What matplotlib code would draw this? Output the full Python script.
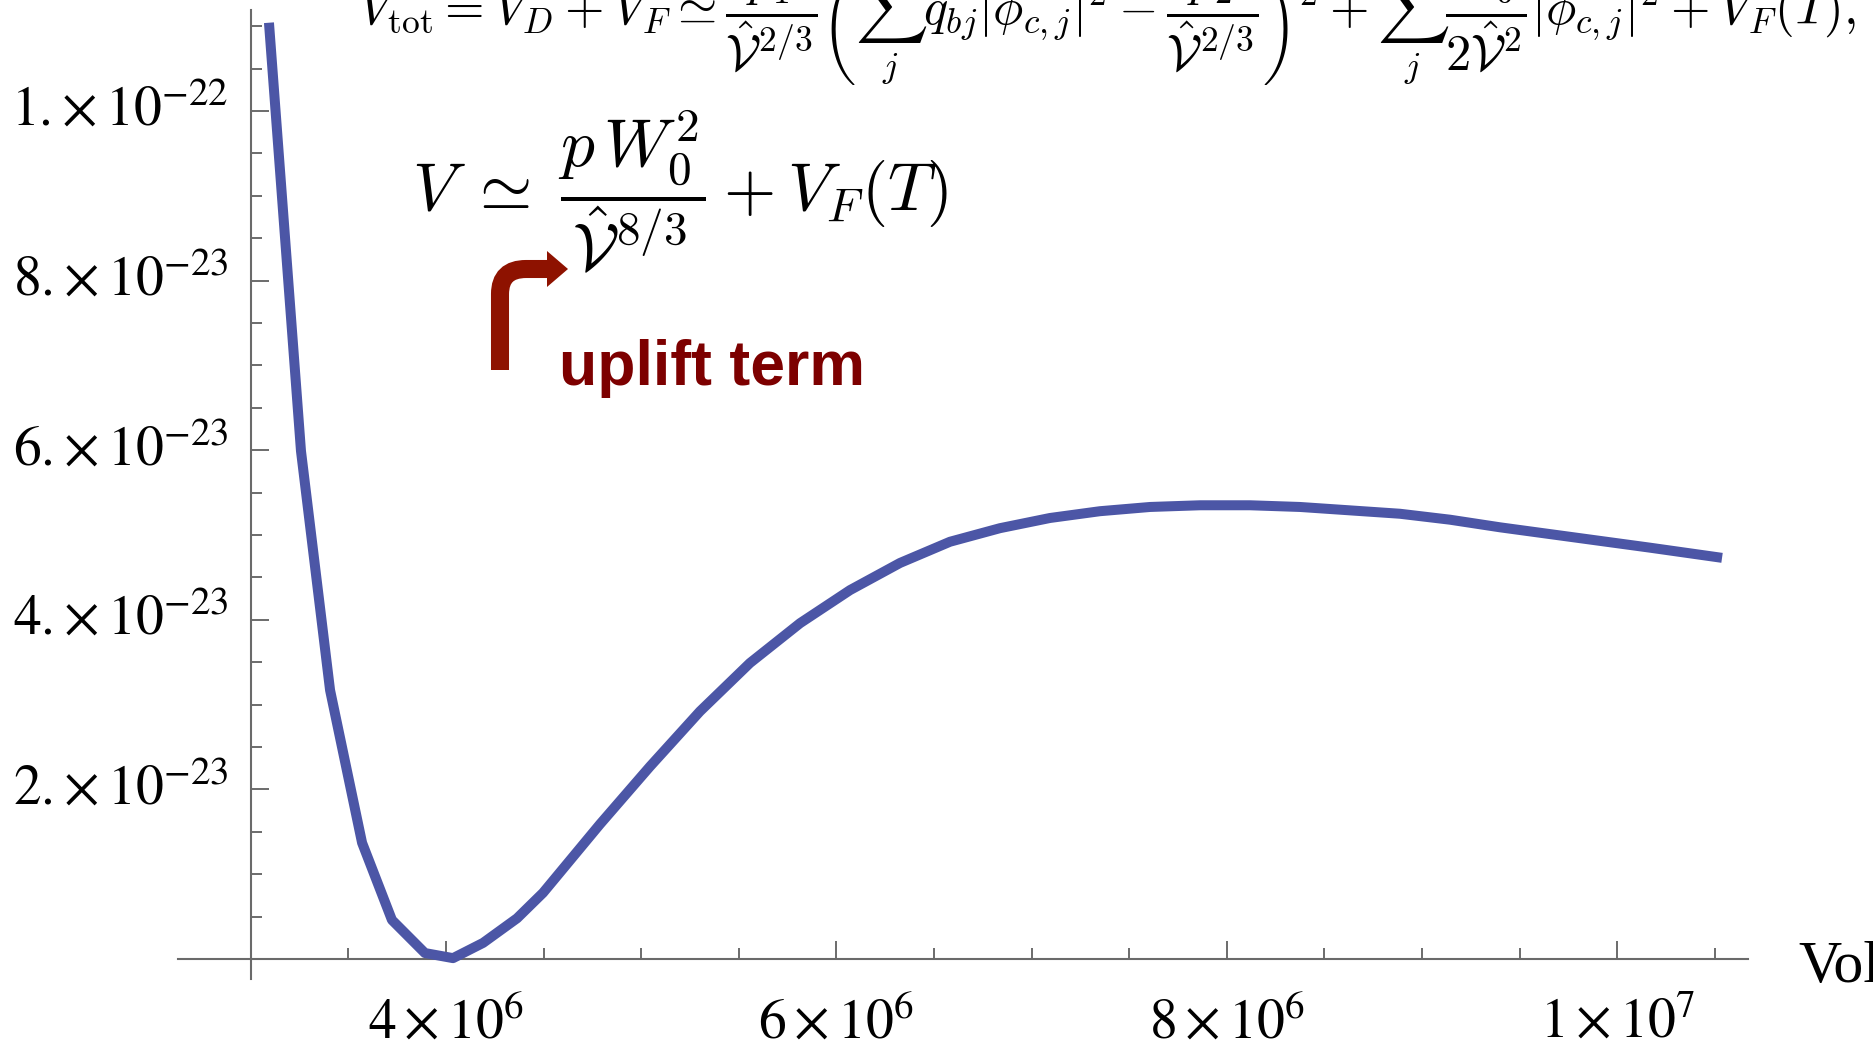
import matplotlib
matplotlib.use('Agg')
import matplotlib.pyplot as plt
from matplotlib.path import Path
from matplotlib.patches import PathPatch, Polygon
from matplotlib.ticker import MultipleLocator

# Curve: volume in units of 1e6, potential in units of 1e-23
volume = [3.093, 3.257, 3.406, 3.570, 3.723, 3.892, 4.036, 4.190, 4.364, 4.497,
          4.789, 5.045, 5.301, 5.557, 5.814, 6.070, 6.326, 6.582, 6.838, 7.094,
          7.350, 7.607, 7.863, 8.119, 8.375, 8.631, 8.887, 9.143, 9.400, 9.656,
          9.912, 10.168, 10.537]
potential = [11.04, 5.99, 3.17, 1.37, 0.46, 0.07, 0.01, 0.19, 0.48, 0.78,
             1.59, 2.27, 2.92, 3.49, 3.96, 4.35, 4.67, 4.92, 5.08, 5.20,
             5.28, 5.33, 5.35, 5.35, 5.33, 5.29, 5.25, 5.18, 5.09, 5.01,
             4.93, 4.85, 4.73]

# Tick values and labels (Mathematica style)
xtick_vals = [4e6, 6e6, 8e6, 1e7]
xtick_text = [r'$4\times10^{6}$', r'$6\times10^{6}$', r'$8\times10^{6}$', r'$1\times10^{7}$']
ytick_vals = [2e-23, 4e-23, 6e-23, 8e-23, 1e-22]
ytick_text = [r'$2.\!\times10^{-23}$', r'$4.\!\times10^{-23}$', r'$6.\!\times10^{-23}$',
              r'$8.\!\times10^{-23}$', r'$1.\!\times10^{-22}$']

top_formula = (r'$V_{\mathrm{tot}} = V_D + V_F \simeq \dfrac{p_1}{\hat{\mathcal{V}}^{2/3}}'
               r'\left(\sum_j q_{bj}|\phi_{c,j}|^2 - \dfrac{p_2}{\hat{\mathcal{V}}^{2/3}}\right)^2'
               r' + \sum_j \dfrac{W_0^2}{2\hat{\mathcal{V}}^2}|\phi_{c,j}|^2 + V_F(T),$')
uplift_formula = r'$V\;\simeq\;\dfrac{p\,W_0^2}{\hat{\mathcal{V}}^{8/3}} + V_F(T)$'

plt.rcParams['mathtext.fontset'] = 'stix'

W, H = 1873, 1048
def fx(px):
    return px / W
def fy(py):
    return 1 - py / H

fig = plt.figure(figsize=(W / 100, H / 100), dpi=100)
ax = fig.add_axes([fx(178), fy(979), (1748 - 178) / W, (979 - 10) / H])

ax.plot([v * 1e6 for v in volume], [p * 1e-23 for p in potential],
        color='#4c56a6', lw=7.2, solid_capstyle='butt', solid_joinstyle='round',
        zorder=3, clip_on=False)

ax.set_xlim(2.627e6, 10.67e6)
ax.set_ylim(-0.236e-23, 11.19e-23)

# Mathematica-like axes crossing at (3e6, 0)
for s in ['top', 'right']:
    ax.spines[s].set_visible(False)
ax.spines['left'].set_position(('data', 3e6))
ax.spines['bottom'].set_position(('data', 0))
for s in ['left', 'bottom']:
    ax.spines[s].set_color('#6a6a6a')
    ax.spines[s].set_linewidth(1.5)

ax.set_xticks(xtick_vals, xtick_text)
ax.set_yticks(ytick_vals, ytick_text)
ax.xaxis.set_minor_locator(MultipleLocator(5e5))
ax.yaxis.set_minor_locator(MultipleLocator(0.5e-23))
ax.tick_params(which='major', direction='in', length=13, width=1.1, color='#444444',
               labelsize=40)
ax.tick_params(which='minor', direction='in', length=8, width=1.1, color='#444444')
ax.tick_params(axis='x', pad=26)
ax.tick_params(axis='y', pad=16)
for t in ax.get_yticklabels():
    t.set_va('center')

# formulas and annotations
fig.text(fx(358), fy(25), top_formula, fontsize=36.5, math_fontfamily='cm',
         ha='left', va='baseline')
fig.text(fx(412), fy(210), uplift_formula, fontsize=48.5, math_fontfamily='cm',
         ha='left', va='baseline')
fig.text(fx(559), fy(385), 'uplift term', fontsize=45, fontweight='bold',
         family='Liberation Sans', color='#7d0000', ha='left', va='baseline')
fig.text(fx(1798), fy(982), 'Volume', fontsize=43, family='Liberation Serif',
         ha='left', va='baseline')

# bent arrow pointing at the uplift term
shaft = Path([(fx(500), fy(370)), (fx(500), fy(294)), (fx(500), fy(269)),
              (fx(526), fy(269)), (fx(549), fy(269))],
             [Path.MOVETO, Path.LINETO, Path.CURVE3, Path.CURVE3, Path.LINETO])
fig.add_artist(PathPatch(shaft, transform=fig.transFigure, fill=False,
                         lw=13, edgecolor='#8e1200', capstyle='butt'))
fig.add_artist(Polygon([(fx(547), fy(251)), (fx(568), fy(269)), (fx(547), fy(287))],
                       closed=True, transform=fig.transFigure,
                       facecolor='#8e1200', edgecolor='none'))

fig.savefig('out.png', dpi=100)
